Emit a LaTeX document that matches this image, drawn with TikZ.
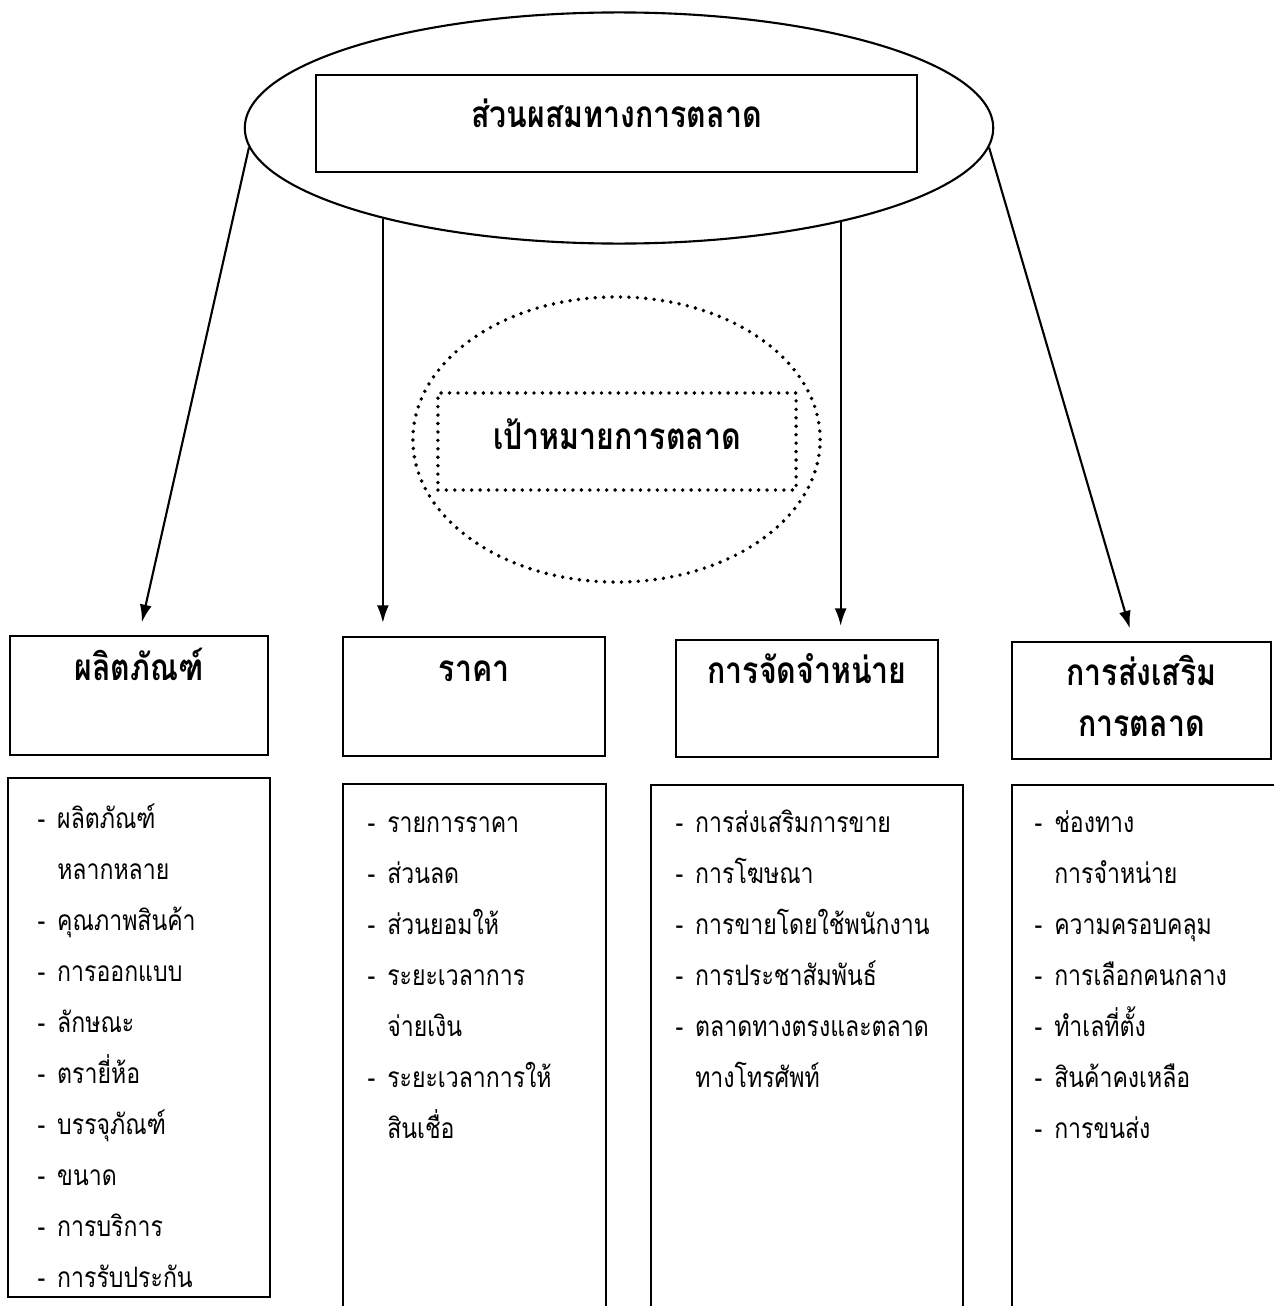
\documentclass[tikz,border=0pt]{standalone}
\usepackage{fontspec}
\newfontfamily\thai[Script=Thai, FakeStretch=0.82]{Loma}
\usepackage{tikz}
\usetikzlibrary{shapes.geometric, arrows.meta, positioning}
\newcommand{\headfont}{\thai\bfseries\fontsize{10.5}{14.5}\selectfont}
\newcommand{\listfont}{\thai\fontsize{8}{14.5}\selectfont}
\newcommand{\dashlist}[1]{\begin{tabular}{@{}l@{\hspace{0.12cm}}l@{}}#1\end{tabular}}

\begin{document}
\begin{tikzpicture}[x=0.01cm, y=-0.01cm,
  box/.style={draw, line width=0.6pt, inner sep=0pt},
  head/.style={box, align=center, font=\headfont},
  dotline/.style={line width=1.1pt, dash pattern=on 0pt off 2.4pt, line cap=round},
  link/.style={-{Latex[length=5pt,width=3.4pt]}, line width=0.6pt, shorten >=0.13cm},
  listtext/.style={anchor=north west, inner sep=0pt, font=\listfont}]
  \useasboundingbox (0,0) rectangle (1274,1306);
  \fill[white] (0,0) rectangle (1274,1306);
  \node[ellipse, draw, line width=0.6pt, minimum width=7.48cm, minimum height=2.31cm] (mix) at (619,128) {};
  \node[box, minimum width=6.01cm, minimum height=0.97cm, font=\headfont, text depth=0.2cm] (mixbox) at (616.5,123.5) {ส่วนผสมทางการตลาด};
  \node[ellipse, draw, dotline, minimum width=4.07cm, minimum height=2.85cm] (goal) at (616.5,439.5) {};
  \node[draw, dotline, minimum width=3.58cm, minimum height=0.97cm, font=\headfont, text depth=0.15cm] (goalbox) at (617,441.5) {เป้าหมายการตลาด};
  \node[head, minimum width=2.58cm, minimum height=1.19cm] (prod) at (139,695.5) {\strut ผลิตภัณฑ์\\\strut};
  \node[head, minimum width=2.62cm, minimum height=1.19cm] (price) at (474,696.5) {\strut ราคา\\\strut};
  \node[head, minimum width=2.62cm, minimum height=1.17cm] (place) at (807,698.5) {\strut การจัดจำหน่าย\\\strut};
  \node[head, minimum width=2.59cm, minimum height=1.17cm] (promo) at (1141.5,700.5) {\strut การส่งเสริม\\\strut การตลาด};
  \node[box, minimum width=2.62cm, minimum height=5.19cm] (lprod) at (139,1037.5) {};
  \node[box, minimum width=2.63cm, minimum height=5.32cm] (lprice) at (474.5,1050) {};
  \node[box, minimum width=3.12cm, minimum height=5.31cm] (lplace) at (807,1050.5) {};
  \node[box, minimum width=2.78cm, minimum height=5.31cm] (lpromo) at (1151,1050.5) {};
  \node[listtext] (tprod) at ([shift={(30,15)}]lprod.north west) {\dashlist{
    - & ผลิตภัณฑ์\\ & หลากหลาย\\ - & คุณภาพสินค้า\\ - & การออกแบบ\\ - & ลักษณะ\\
    - & ตรายี่ห้อ\\ - & บรรจุภัณฑ์\\ - & ขนาด\\ - & การบริการ\\ - & การรับประกัน}};
  \node[listtext] (tprice) at ([shift={(25,13)}]lprice.north west) {\dashlist{
    - & รายการราคา\\ - & ส่วนลด\\ - & ส่วนยอมให้\\ - & ระยะเวลาการ\\ & จ่ายเงิน\\
    - & ระยะเวลาการให้\\ & สินเชื่อ}};
  \node[listtext] (tplace) at ([shift={(25,12)}]lplace.north west) {\dashlist{
    - & การส่งเสริมการขาย\\ - & การโฆษณา\\ - & การขายโดยใช้พนักงาน\\ - & การประชาสัมพันธ์\\
    - & ตลาดทางตรงและตลาด\\ & ทางโทรศัพท์}};
  \node[listtext] (tpromo) at ([shift={(23,12)}]lpromo.north west) {\dashlist{
    - & ช่องทาง\\ & การจำหน่าย\\ - & ความครอบคลุม\\ - & การเลือกคนกลาง\\ - & ทำเลที่ตั้ง\\
    - & สินค้าคงเหลือ\\ - & การขนส่ง}};
  \draw[link] (mix.183) -- (prod.north);
  \draw[link] (mix.201.7) -- (mix.201.7 |- price.north);
  \draw[link] (mix.337.6) -- (mix.337.6 |- place.north);
  \draw[link] (mix.357) -- ([xshift=-0.08cm]promo.north);
\end{tikzpicture}
\end{document}
